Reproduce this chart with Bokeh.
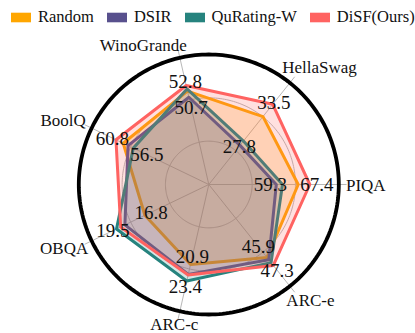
import numpy as np
from bokeh.plotting import figure
from bokeh.models import Range1d, Legend, LegendItem, ColumnDataSource
from bokeh.core.properties import value
from bokeh.embed import file_html
from bokeh.resources import INLINE

# Benchmarks, counter-clockwise starting from the right-hand spoke
benchmarks = ["PIQA", "HellaSwag", "WinoGrande", "BoolQ", "OBQA", "ARC-c", "ARC-e"]
series_names = ["Random", "DSIR", "QuRating-W", "DiSF(Ours)"]

random_scores = [64.6, 31.8, 51.8, 59.0, 16.8, 20.9, 45.9]
dsir_scores = [59.3, 27.8, 50.7, 57.8, 18.7, 22.4, 46.3]
qurating_scores = [60.8, 28.4, 52.2, 56.5, 19.5, 23.4, 46.8]
disf_scores = [67.4, 33.5, 52.8, 60.8, 19.1, 22.5, 47.3]

# Each spoke has its own scale: value at the centre and value on the outer circle
axis_low = [42.98, 22.37, 35.04, 37.73, 10.72, 8.84, 33.10]
axis_high = [74.41, 36.48, 57.79, 66.84, 21.86, 27.96, 50.93]

colors = ["#ffa600", "#58508d", "#26837e", "#ff6361"]

SERIF = "Liberation Serif"
PX = 130.0  # pixels per unit radius
W, H = 415, 333
CX, CY = 208.3, 184.0  # centre of the radar in screen pixels

all_scores = [random_scores, dsir_scores, qurating_scores, disf_scores]
n = len(benchmarks)
theta = np.arange(n) * 2 * np.pi / n
lo = np.array(axis_low)
hi = np.array(axis_high)


def radius(vals):
    return (np.asarray(vals, dtype=float) - lo) / (hi - lo)


p = figure(width=W, height=H, output_backend="svg", toolbar_location=None,
           x_axis_type=None, y_axis_type=None, min_border=0,
           x_range=Range1d(-CX / PX, (W - CX) / PX),
           y_range=Range1d(-(H - CY) / PX, CY / PX))
p.grid.visible = False
p.outline_line_color = None
p.background_fill_color = "white"

# light rings and spokes
ring_t = np.linspace(0, 2 * np.pi, 241)
for rr in (1 / 3, 2 / 3):
    p.line(rr * np.cos(ring_t), rr * np.sin(ring_t), line_color="#b8b8b8", line_width=1)
spoke_len = 1.06
p.segment(x0=np.zeros(n), y0=np.zeros(n), x1=spoke_len * np.cos(theta),
          y1=spoke_len * np.sin(theta), line_color="#b8b8b8", line_width=1)

# filled polygons for each method
for scores, col in zip(all_scores, colors):
    r = radius(scores)
    p.patch(x=r * np.cos(theta), y=r * np.sin(theta), fill_color=col, fill_alpha=0.2,
            line_color=col, line_width=3, line_join="round")

# outer frame
p.line(np.cos(ring_t), np.sin(ring_t), line_color="black", line_width=3.8)

# value labels at the best and worst score on every spoke
score_arr = np.array(all_scores)
max_vals = score_arr.max(axis=0)
min_vals = score_arr.min(axis=0)
max_shift = np.array([7, 2, 4, 4, 4, 6, 6]) / PX
min_shift = np.array([-6, -1, -10, -15, -7, -8, -14]) / PX
r_max = radius(max_vals) + max_shift
r_min = radius(min_vals) + min_shift
val_src = ColumnDataSource(dict(
    x=np.concatenate([r_max * np.cos(theta), r_min * np.cos(theta)]),
    y=np.concatenate([r_max * np.sin(theta), r_min * np.sin(theta)]),
    text=[f"{v:.1f}" for v in max_vals] + [f"{v:.1f}" for v in min_vals],
))
p.text(x="x", y="y", text="text", source=val_src, text_font=value(SERIF),
       text_font_size="19px", text_color="#111111", text_align="center",
       text_baseline="middle")

# benchmark names outside the frame
name_r = 155 / PX
name_dx = [2, 14, -31, -6, -5, 0, 5]
name_dy = [1, 4, 12, 3, -3, -11, -5]
name_src = ColumnDataSource(dict(x=name_r * np.cos(theta), y=name_r * np.sin(theta),
                                 text=benchmarks, dx=name_dx, dy=name_dy))
p.text(x="x", y="y", text="text", source=name_src, x_offset="dx", y_offset="dy",
       text_font=value(SERIF), text_font_size="17px", text_color="#111111",
       text_align="center", text_baseline="middle")

# legend swatches: zero-area quads that only serve as legend glyphs
items = []
for name, col in zip(series_names, colors):
    sw = p.quad(left=[0], right=[0], top=[0], bottom=[0], fill_color=col, line_color=None)
    items.append(LegendItem(label=name, renderers=[sw]))
legend = Legend(items=items, orientation="horizontal", location=(8, 306),
                glyph_width=25, glyph_height=12, label_standoff=5, spacing=10,
                padding=0, margin=0, border_line_alpha=0, background_fill_alpha=0,
                label_text_font=SERIF, label_text_font_size="16.5px",
                label_text_color="#111111")
p.add_layout(legend)

open("out.html", "w").write(file_html(p, INLINE))
